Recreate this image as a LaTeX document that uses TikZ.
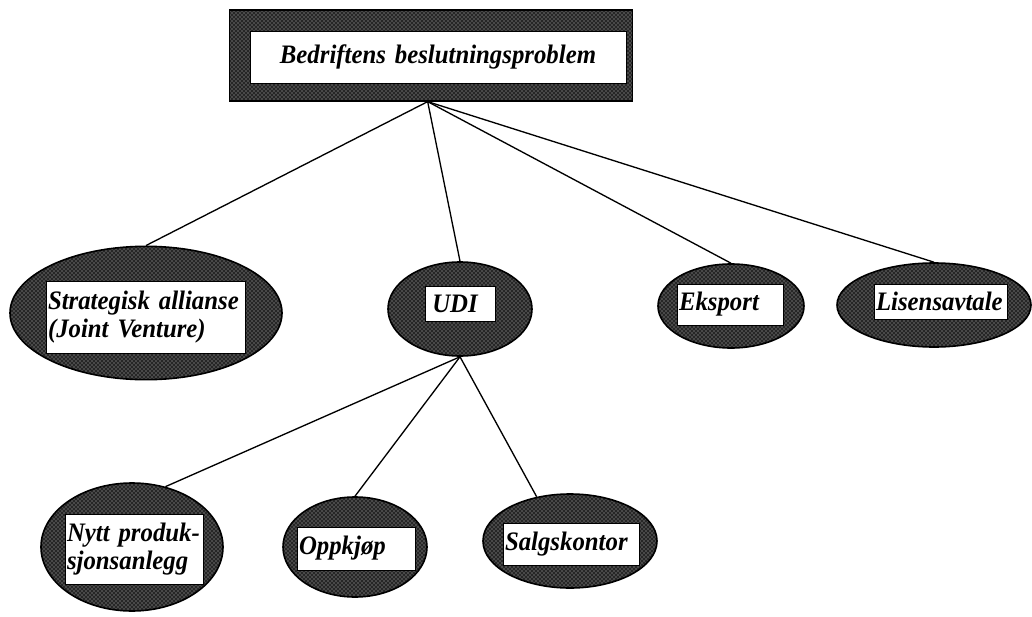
\documentclass[tikz,border=0pt]{standalone}
\usepackage{fontspec}
\setmainfont[FakeStretch=0.93]{Liberation Serif}
\usetikzlibrary{shapes.geometric,patterns}
\begin{document}
\begin{tikzpicture}[x=0.75pt,y=-0.75pt,
  darkfill/.style={preaction={fill=black!85}, pattern=crosshatch dots, pattern color=white!75!black, draw=black, line width=1.2pt},
  oval/.style={darkfill, ellipse, inner sep=0pt},
  frame/.style={darkfill, rectangle, inner sep=0pt},
  whitebox/.style={fill=white, draw=black, line width=0.6pt, inner xsep=1.5pt, inner ysep=0pt,
     font=\fontsize{20}{21}\selectfont\bfseries\itshape, align=left},
  conn/.style={line width=1pt}]
\useasboundingbox (0,0) rectangle (1032,617);

% root
\node[frame, minimum width=302pt, minimum height=68pt] (root) at (431,55.5) {};
\node[whitebox, text width=279pt, minimum height=39pt, align=center] (roottext) at (438,57)
  {Bedriftens beslutningsproblem\\[6pt]};

% first level
\node[oval, minimum width=204pt, minimum height=100pt] (strat) at (146,313) {};
\node[whitebox, text width=146.25pt, minimum height=54pt] (strattext) at (145.5,317)
  {Strategisk allianse\\(Joint Venture)};

\node[oval, minimum width=108pt, minimum height=70.5pt] (udi) at (460,309) {};
\node[whitebox, text width=49.5pt, minimum height=26.25pt] (uditext) at (460,303.5)
  {\hspace{4pt}UDI};

\node[oval, minimum width=109.5pt, minimum height=63pt] (eksp) at (731,306) {};
\node[whitebox, text width=76.5pt, minimum height=30.75pt] (eksptext) at (730,304.5)
  {Eksport};

\node[oval, minimum width=145.5pt, minimum height=63pt] (lis) at (934,305) {};
\node[whitebox, text width=96.75pt, minimum height=26.25pt] (listext) at (940.5,301.5)
  {Lisensavtale};

% second level
\node[oval, minimum width=136.5pt, minimum height=96pt] (nytt) at (132,547) {};
\node[whitebox, text width=100.5pt, minimum height=52.5pt] (nytttext) at (134,549)
  {Nytt produk-\\sjonsanlegg};

\node[oval, minimum width=108pt, minimum height=75pt] (opp) at (355,547) {};
\node[whitebox, text width=85.5pt, minimum height=32.25pt] (opptext) at (356,548.5)
  {Oppkjøp};

\node[oval, minimum width=130.5pt, minimum height=70.5pt] (salg) at (570,541) {};
\node[whitebox, text width=99pt, minimum height=31.5pt] (salgtext) at (571,544)
  {Salgskontor};

% connectors
\draw[conn] ([xshift=-2.5pt]root.south) -- (strat.north);
\draw[conn] ([xshift=-2.5pt]root.south) -- (udi.north);
\draw[conn] ([xshift=-2.5pt]root.south) -- (eksp.north);
\draw[conn] ([xshift=-2.5pt]root.south) -- (lis.north);
\draw[conn] (udi.south) -- (nytt.61);
\draw[conn] (udi.south) -- (opp.north);
\draw[conn] (udi.south) -- (salg.127);
\end{tikzpicture}
\end{document}
